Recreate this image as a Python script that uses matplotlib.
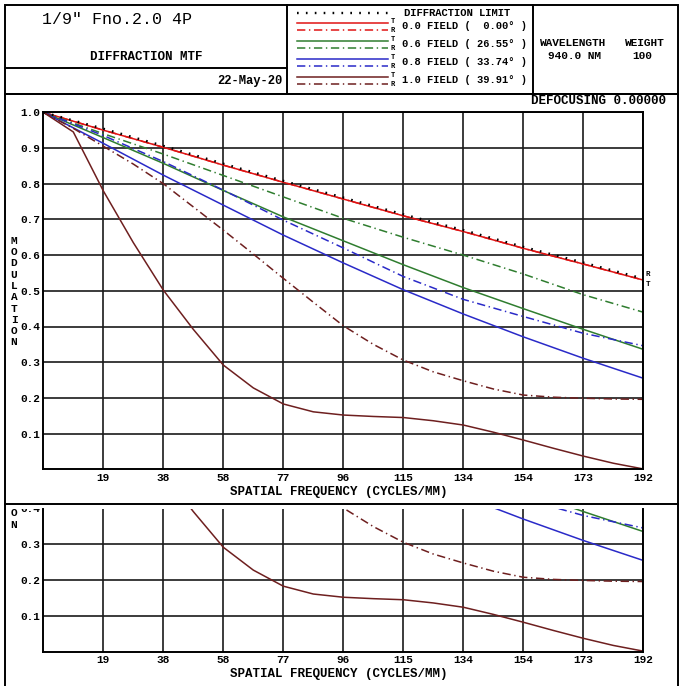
import matplotlib
matplotlib.use("Agg")
import matplotlib.pyplot as plt
from matplotlib.lines import Line2D
from matplotlib.patches import Rectangle
from matplotlib.transforms import Bbox, TransformedBbox

plt.rcParams['font.family'] = ['Liberation Mono', 'DejaVu Sans Mono']
plt.rcParams['lines.scale_dashes'] = False

W, H = 680, 686

# ---- data ----
freq = [0, 19.2, 38.4, 57.6, 76.8, 96, 115.2, 134.4, 153.6, 172.8, 192]
freq_fine = [0, 9.6, 19.2, 28.8, 38.4, 48, 57.6, 67.2, 76.8, 86.4, 96,
             105.6, 115.2, 124.8, 134.4, 144, 153.6, 163.2, 172.8, 182.4, 192]
tick_labels = ['19', '38', '58', '77', '96', '115', '134', '154', '173', '192']

diff_limit = [1.0, 0.954, 0.906, 0.856, 0.808, 0.761, 0.714, 0.670, 0.623, 0.579, 0.534]
f00_t = [1.0, 0.950, 0.902, 0.852, 0.804, 0.757, 0.710, 0.666, 0.619, 0.575, 0.530]
f00_r = [1.0, 0.950, 0.902, 0.852, 0.804, 0.757, 0.710, 0.666, 0.619, 0.575, 0.530]
f06_t = [1.0, 0.929, 0.857, 0.781, 0.707, 0.640, 0.573, 0.509, 0.450, 0.392, 0.336]
f06_r = [1.0, 0.940, 0.883, 0.823, 0.763, 0.703, 0.650, 0.600, 0.547, 0.489, 0.440]
f08_t = [1.0, 0.913, 0.824, 0.740, 0.656, 0.578, 0.503, 0.435, 0.371, 0.311, 0.255]
f08_r = [1.0, 0.935, 0.862, 0.782, 0.698, 0.620, 0.540, 0.476, 0.428, 0.381, 0.346]
f10_t = [1.0, 0.945, 0.780, 0.635, 0.502, 0.392, 0.292, 0.228, 0.183, 0.161, 0.152,
         0.148, 0.145, 0.136, 0.124, 0.104, 0.082, 0.059, 0.037, 0.017, 0.001]
f10_r = [1.0, 0.955, 0.905, 0.855, 0.800, 0.735, 0.670, 0.603, 0.535, 0.468, 0.402,
         0.350, 0.306, 0.273, 0.248, 0.225, 0.208, 0.202, 0.199, 0.197, 0.196]

field_labels = ['0.0 FIELD (  0.00\u00b0 )', '0.6 FIELD ( 26.55\u00b0 )',
                '0.8 FIELD ( 33.74\u00b0 )', '1.0 FIELD ( 39.91\u00b0 )']
colors = ['#e01414', '#2f7d2f', '#2a2ac8', '#6e1f1f']
DASHDOT = (0, (6, 2.6, 1, 2.6))
DOTTED = (0, (1.2, 5.2))

series = [(freq, f00_t, f00_r), (freq, f06_t, f06_r),
          (freq, f08_t, f08_r), (freq_fine, f10_t, f10_r)]

fig = plt.figure(figsize=(W / 100, H / 100), dpi=100)


def ax_rect(left, top, right, bottom):
    return [left / W, 1 - bottom / H, (right - left) / W, (bottom - top) / H]


def draw_curves(ax):
    for (fx, t, r), c in zip(series, colors):
        ax.plot(fx, r, color=c, lw=1.1, linestyle=DASHDOT)
        ax.plot(fx, t, color=c, lw=1.1)
    ax.plot(freq, diff_limit, color='black', lw=1.7, linestyle=DOTTED)


def style_axes(ax, ymax, yticks):
    ax.set_xlim(0, 192)
    ax.set_ylim(0, ymax)
    ax.set_xticks(freq[1:])
    ax.set_xticklabels(tick_labels)
    ax.set_yticks(yticks)
    ax.set_yticklabels(['%.1f' % v for v in yticks])
    ax.grid(True, color='#1a1a1a', lw=1.2)
    ax.set_axisbelow(True)
    ax.tick_params(length=0, labelsize=8, pad=2.5)
    for lab in ax.get_xticklabels() + ax.get_yticklabels():
        lab.set_fontweight('bold')
    for s in ax.spines.values():
        s.set_linewidth(1.4)
        s.set_color('black')


# main chart
ax = fig.add_axes(ax_rect(43.3, 112.3, 643.3, 469.3))
draw_curves(ax)
style_axes(ax, 1.0, [0.1, 0.2, 0.3, 0.4, 0.5, 0.6, 0.7, 0.8, 0.9, 1.0])

# lower (scrolled) copy of the chart
ax2 = fig.add_axes(ax_rect(43.3, 509.0, 643.3, 651.5))
draw_curves(ax2)
style_axes(ax2, (651.5 - 509.0) / 357, [0.1, 0.2, 0.3])
ax2.spines['top'].set_visible(False)

# overlay in pixel coordinates
ov = fig.add_axes([0, 0, 1, 1], zorder=10)
ov.set_xlim(0, W)
ov.set_ylim(H, 0)
ov.axis('off')

frame = dict(fill=False, lw=1.4, edgecolor='black')
ov.add_patch(Rectangle((5, 5), 673, 88.5, **frame))
ov.add_patch(Rectangle((5, 93.5), 673, 410, **frame))
ov.plot([287, 287], [5, 93.5], color='black', lw=1.4)
ov.plot([533, 533], [5, 93.5], color='black', lw=1.4)
ov.plot([5, 287], [68, 68], color='black', lw=1.4)
ov.plot([5, 5], [503.5, 686], color='black', lw=1.4)
ov.plot([678, 678], [503.5, 686], color='black', lw=1.4)

ov.text(41.7, 20, '1/9" Fno.2.0 4P', fontsize=12, va='center', ha='left')
ov.text(146, 56.7, 'DIFFRACTION MTF', fontsize=9, fontweight='bold', va='center', ha='center')
ov.text(282, 80.7, '22-May-20', fontsize=8.7, fontweight='bold', va='center', ha='right')

# legend
ov.add_line(Line2D([297, 388], [13.3, 13.3], color='black', lw=1.7, linestyle=DOTTED))
ov.text(404, 13.3, 'DIFFRACTION LIMIT', fontsize=7.6, fontweight='bold', va='center')
for i, (lab, c) in enumerate(zip(field_labels, colors)):
    yt = 22.7 + i * 18
    ov.add_line(Line2D([297, 388], [yt, yt], color=c, lw=1.1))
    ov.add_line(Line2D([297, 388], [yt + 7.6, yt + 7.6], color=c, lw=1.1, linestyle=DASHDOT))
    ov.text(393, yt - 1, 'T', fontsize=5, fontweight='bold', va='center', ha='center')
    ov.text(393, yt + 7.6, 'R', fontsize=5, fontweight='bold', va='center', ha='center')
    ov.text(401.7, yt + 3.6, lab, fontsize=7.5, fontweight='bold', va='center')

ov.text(540, 42.7, 'WAVELENGTH', fontsize=8, fontweight='bold', va='center')
ov.text(625, 42.7, 'WEIGHT', fontsize=8, fontweight='bold', va='center')
ov.text(548, 56, '940.0 NM', fontsize=8, fontweight='bold', va='center')
ov.text(632, 56, '100', fontsize=8, fontweight='bold', va='center')

ov.text(666, 101.3, 'DEFOCUSING 0.00000', fontsize=9, fontweight='bold', va='center', ha='right')
ov.text(648, 274.5, 'R', fontsize=5.5, fontweight='bold', va='center', ha='center')
ov.text(648, 284.5, 'T', fontsize=5.5, fontweight='bold', va='center', ha='center')

ylabel = 'MODULATION'
for k, ch in enumerate(ylabel):
    ov.text(14, 240.7 + k * 11.3, ch, fontsize=8, fontweight='bold', va='center', ha='center')
ov.text(339, 492, 'SPATIAL FREQUENCY (CYCLES/MM)', fontsize=9, fontweight='bold',
        va='center', ha='center')

# lower copy texts (clipped at the top of the lower panel)
shift = 182.2
clip = TransformedBbox(Bbox([[0, 0], [1, (H - 509) / H]]), fig.transFigure)
for k, ch in enumerate(ylabel):
    t = ov.text(14, 240.7 + k * 11.3 + shift, ch, fontsize=8, fontweight='bold',
                va='center', ha='center')
    t.set_clip_box(clip)
    t.set_clip_on(True)
t = ov.text(40.7, 469.3 - 0.4 * 357 + shift, '0.4', fontsize=8, fontweight='bold',
            va='center', ha='right')
t.set_clip_box(clip)
t.set_clip_on(True)
ov.text(339, 492 + shift, 'SPATIAL FREQUENCY (CYCLES/MM)', fontsize=9, fontweight='bold',
        va='center', ha='center')

fig.savefig('out.png', dpi=100)
